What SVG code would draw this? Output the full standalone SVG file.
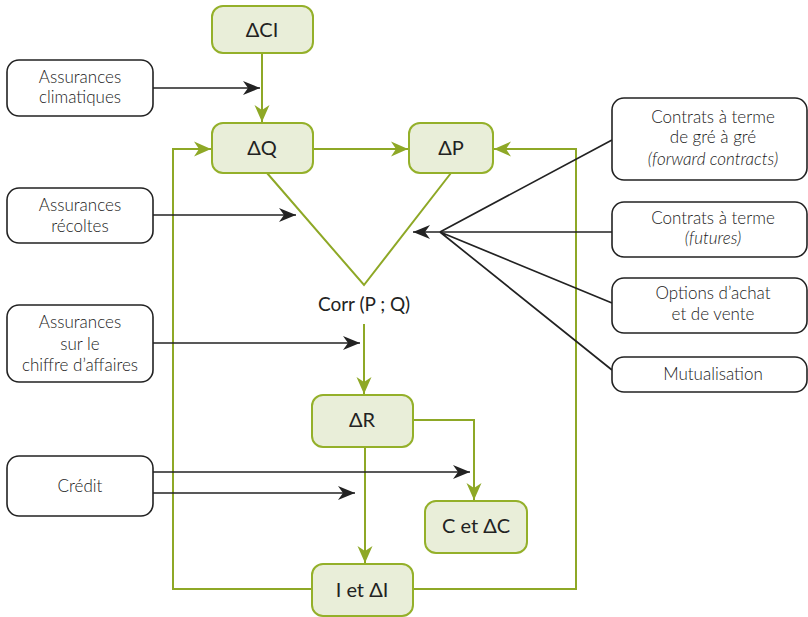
<svg xmlns="http://www.w3.org/2000/svg" width="808" height="617" viewBox="0 0 808 617">
<defs>
<style>
.g rect{fill:#e9eed9;stroke:#94b02a;stroke-width:2}
.w rect{fill:#fff;stroke:#222;stroke-width:1.6}
.gt{font-family:Lato,"Open Sans",sans-serif;font-size:20px;font-weight:400;fill:#222;text-anchor:middle}
.wt{font-family:Lato,"Open Sans",sans-serif;font-size:17px;font-weight:300;fill:#1a1a1a;text-anchor:middle}
.it{font-style:italic}
.gl{fill:none;stroke:#8ea826;stroke-width:2}
.bl{fill:none;stroke:#222;stroke-width:1.7}
</style>
<marker id="ag" markerUnits="userSpaceOnUse" markerWidth="18" markerHeight="18" viewBox="0 0 18 18" refX="17" refY="9" orient="auto">
<path d="M0,1.5 L17,9 L0,16.5 L5,9 Z" fill="#8ea826"/>
</marker>
<marker id="ab" markerUnits="userSpaceOnUse" markerWidth="18" markerHeight="18" viewBox="0 0 18 18" refX="17" refY="9" orient="auto">
<path d="M0,2 L17,9 L0,16 L5,9 Z" fill="#222"/>
</marker>
</defs>
<rect width="808" height="617" fill="#fff"/>
<g id="connectors">
<path class="gl" d="M262,53 V122" marker-end="url(#ag)"/>
<path class="gl" d="M313,149 H408" marker-end="url(#ag)"/>
<path class="gl" d="M313,589 H173 V149 H211" marker-end="url(#ag)"/>
<path class="gl" d="M413,589 H576 V149 H494" marker-end="url(#ag)"/>
<path class="gl" d="M267,173 L364,285 L451,173"/>
<path class="gl" d="M364,324 V394" marker-end="url(#ag)"/>
<path class="gl" d="M413,420 H474 V500" marker-end="url(#ag)"/>
<path class="gl" d="M365,447 V563" marker-end="url(#ag)"/>
<path class="bl" d="M153,88 H260" marker-end="url(#ab)"/>
<path class="bl" d="M153,215 H296" marker-end="url(#ab)"/>
<path class="bl" d="M153,343 H360" marker-end="url(#ab)"/>
<path class="bl" d="M153,472 H470" marker-end="url(#ab)"/>
<path class="bl" d="M153,493 H355" marker-end="url(#ab)"/>
<path class="bl" d="M612,140 L440,232 M612,303 L440,232 M612,370 L440,232"/>
<path class="bl" d="M612,232 H413" marker-end="url(#ab)"/>
</g>
<g id="dCI" class="g"><rect x="212" y="6" width="101" height="47" rx="11"/><text class="gt" x="262" y="37">ΔCI</text></g>
<g id="dQ" class="g"><rect x="212" y="123" width="101" height="50" rx="11"/><text class="gt" x="262" y="155">ΔQ</text></g>
<g id="dP" class="g"><rect x="409" y="123" width="84" height="50" rx="11"/><text class="gt" x="451" y="155">ΔP</text></g>
<g id="dR" class="g"><rect x="312" y="395" width="101" height="52" rx="11"/><text class="gt" x="362" y="427">ΔR</text></g>
<g id="CdC" class="g"><rect x="425" y="501" width="102" height="52" rx="11"/><text class="gt" x="476" y="533">C et ΔC</text></g>
<g id="IdI" class="g"><rect x="312" y="564" width="101" height="52" rx="11"/><text class="gt" x="362" y="597">I et ΔI</text></g>
<g id="corr"><text class="gt" x="364" y="311" style="font-size:19px">Corr (P ; Q)</text></g>
<g id="climatiques" class="w"><rect x="7" y="60" width="146" height="56" rx="12"/><text class="wt" x="80" y="83">Assurances</text><text class="wt" x="80" y="103">climatiques</text></g>
<g id="recoltes" class="w"><rect x="7" y="188" width="146" height="55" rx="12"/><text class="wt" x="80" y="211">Assurances</text><text class="wt" x="80" y="232">récoltes</text></g>
<g id="chiffre" class="w"><rect x="7" y="305" width="146" height="77" rx="12"/><text class="wt" x="80" y="328">Assurances</text><text class="wt" x="80" y="350">sur le</text><text class="wt" x="80" y="371">chiffre d’affaires</text></g>
<g id="credit" class="w"><rect x="7" y="456" width="146" height="60" rx="12"/><text class="wt" x="80" y="492">Crédit</text></g>
<g id="forward" class="w"><rect x="612" y="98" width="195" height="82" rx="12"/><text class="wt" x="713" y="123">Contrats à terme</text><text class="wt" x="713" y="143">de gré à gré</text><text class="wt it" x="713" y="165">(forward contracts)</text></g>
<g id="futures" class="w"><rect x="612" y="202" width="195" height="55" rx="12"/><text class="wt" x="713" y="224">Contrats à terme</text><text class="wt it" x="713" y="244">(futures)</text></g>
<g id="options" class="w"><rect x="612" y="278" width="195" height="55" rx="12"/><text class="wt" x="713" y="299">Options d’achat</text><text class="wt" x="713" y="320">et de vente</text></g>
<g id="mutualisation" class="w"><rect x="612" y="357" width="195" height="35" rx="12"/><text class="wt" x="713" y="380">Mutualisation</text></g>
</svg>
